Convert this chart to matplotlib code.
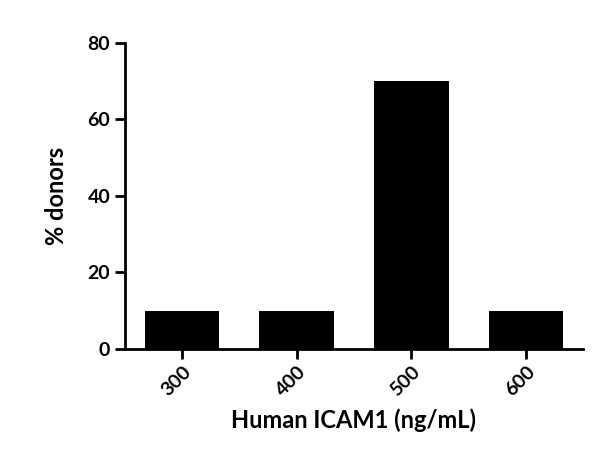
import matplotlib
matplotlib.use("Agg")
import matplotlib.pyplot as plt

categories = ["300", "400", "500", "600"]
values = [10, 10, 70, 10]
yticks = [0, 20, 40, 60, 80]

plt.rcParams['font.family'] = ['Lato', 'DejaVu Sans']
plt.rcParams['font.weight'] = 'bold'

fig = plt.figure(figsize=(6, 4.67), dpi=100)
ax = fig.add_axes([0.208, 0.253, 0.764, 0.655])
x = list(range(len(categories)))
ax.bar(x, values, width=0.65, color='black')
ax.set_xlim(-0.5, 3.5)
ax.set_ylim(0, 80)
ax.set_yticks(yticks)
ax.set_xticks(x)
ax.set_xticklabels(categories, rotation=45, ha='right', rotation_mode='anchor')
for s in ['top', 'right']:
    ax.spines[s].set_visible(False)
for s in ['left', 'bottom']:
    ax.spines[s].set_linewidth(2)
ax.tick_params(width=2, length=7, labelsize=14)
for lab in ax.get_xticklabels() + ax.get_yticklabels():
    lab.set_fontweight('bold')
ax.set_ylabel('% donors', fontsize=17, fontweight='bold', labelpad=14)
ax.set_xlabel('Human ICAM1 (ng/mL)', fontsize=17, fontweight='bold', labelpad=6)
fig.savefig('out.png', dpi=100)
